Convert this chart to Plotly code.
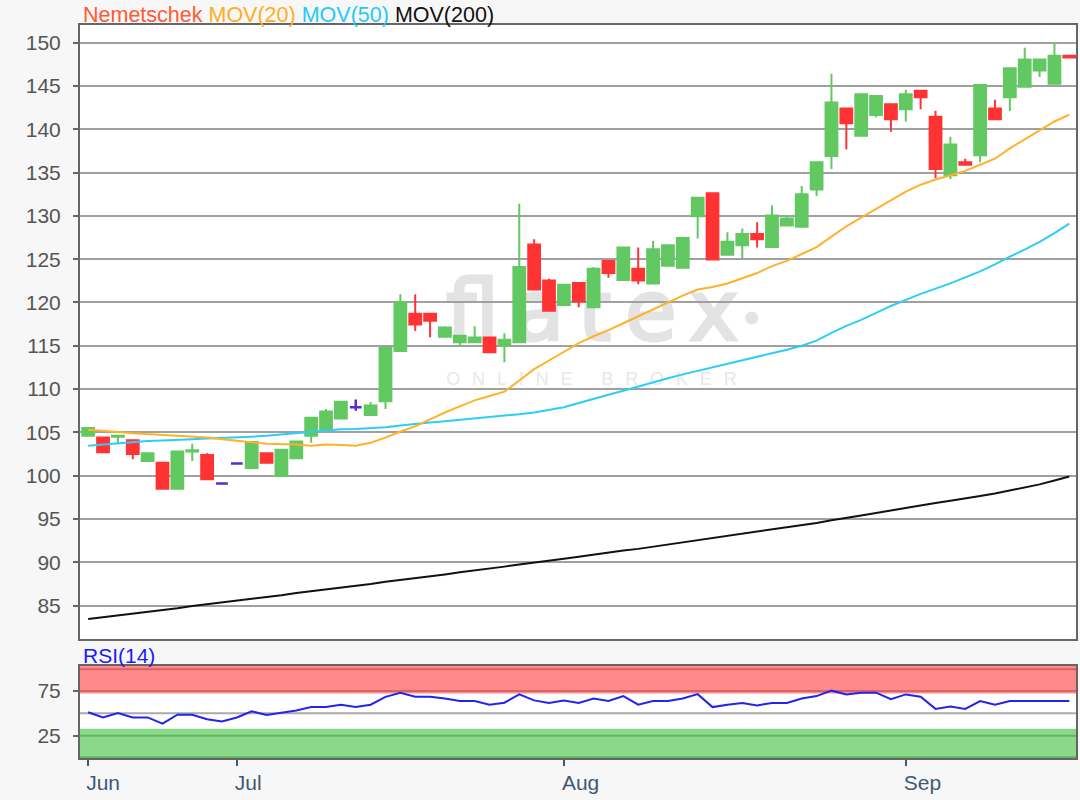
import base64
import pandas as pd
import plotly.graph_objects as go

# ---------------- data ----------------
dates = [d.strftime("%Y-%m-%d") for d in pd.bdate_range("2018-06-18", "2018-09-18")]
month_labels = ["Jun", "Jul", "Aug", "Sep"]

open_ = [104.6, 104.4, 104.5, 104.1, 101.7, 101.5, 98.5, 102.8, 102.4, 99.1,
         101.4, 100.9, 102.6, 100.0, 102.0, 104.6, 105.3, 106.6, 107.9, 107.0,
         108.6, 114.4, 118.7, 118.7, 116.05, 115.4, 115.4, 115.95, 115.0, 115.4,
         126.7, 122.55, 119.7, 122.25, 119.45, 124.8, 122.6, 123.9, 122.2, 124.25,
         124.0, 129.95, 132.6, 125.5, 126.6, 127.9, 126.4, 128.9, 128.75, 133.05,
         136.9, 142.4, 139.25, 141.65, 142.9, 142.3, 144.45, 141.45, 134.7, 136.2,
         137.0, 142.4, 143.7, 144.9, 146.8, 145.25, 148.5]
high = [105.6, 104.5, 104.65, 104.2, 102.6, 101.5, 102.8, 103.7, 102.6, 99.1,
        101.4, 103.9, 102.6, 103.0, 104.0, 106.7, 107.7, 108.55, 108.8, 108.5,
        114.75, 120.95, 120.95, 118.7, 117.25, 116.15, 117.25, 115.95, 116.45, 131.4,
        127.3, 122.75, 122.1, 122.25, 124.1, 124.8, 126.35, 126.35, 127.1, 126.6,
        127.5, 132.1, 132.6, 128.1, 128.55, 129.25, 131.2, 130.1, 133.45, 136.2,
        146.4, 142.4, 144.05, 143.85, 142.9, 144.55, 144.45, 142.15, 139.15, 136.6,
        145.1, 143.4, 147.05, 149.4, 148.05, 149.9, 148.5]
low = [104.5, 102.6, 103.75, 101.9, 101.7, 98.5, 98.4, 101.7, 99.6, 99.1,
       101.4, 100.9, 101.5, 100.0, 102.0, 103.8, 105.3, 106.6, 107.5, 107.0,
       107.7, 114.4, 116.7, 116.0, 116.05, 115.0, 115.4, 114.25, 113.1, 115.4,
       121.5, 119.05, 119.7, 119.45, 119.45, 122.85, 122.6, 122.1, 122.2, 124.25,
       124.0, 127.4, 124.95, 125.4, 125.1, 126.35, 126.3, 128.85, 128.75, 132.3,
       135.4, 137.7, 139.25, 141.4, 139.7, 140.9, 142.3, 134.35, 134.25, 135.9,
       136.2, 141.15, 142.1, 144.9, 146.05, 145.25, 148.3]
close = [105.5, 102.7, 104.6, 102.5, 102.6, 98.5, 102.8, 102.95, 99.6, 99.1,
         101.4, 103.9, 101.5, 103.0, 103.95, 106.7, 107.4, 108.55, 107.9, 108.1,
         114.75, 120.0, 117.45, 117.9, 117.1, 116.15, 115.95, 114.25, 115.7, 124.1,
         121.5, 119.05, 122.05, 120.1, 123.9, 123.4, 126.35, 122.55, 126.15, 126.6,
         127.45, 132.1, 124.95, 127.0, 127.9, 127.3, 130.05, 129.7, 132.5, 136.2,
         143.1, 140.7, 144.05, 143.85, 141.15, 144.05, 143.7, 135.4, 138.25, 135.9,
         145.1, 141.15, 147.05, 148.05, 148.05, 148.5, 148.3]

mov20 = [105.3, 105.2, 105.05, 104.9, 104.8, 104.7, 104.6, 104.5, 104.4, 104.2,
         104.0, 103.85, 103.7, 103.65, 103.6, 103.45, 103.6, 103.55, 103.45, 103.8,
         104.4, 105.1, 105.7, 106.5, 107.3, 108.0, 108.7, 109.2, 109.7, 111.0,
         112.3, 113.3, 114.3, 115.3, 116.1, 116.8, 117.6, 118.4, 119.2, 120.0,
         120.8, 121.5, 121.8, 122.2, 122.8, 123.4, 124.2, 124.8, 125.6, 126.4,
         127.6, 128.8, 129.8, 130.8, 131.8, 132.8, 133.6, 134.2, 134.7, 135.2,
         135.9, 136.6, 137.8, 138.8, 139.9, 140.9, 141.7]
mov50 = [103.45, 103.6, 103.75, 103.9, 104.0, 104.05, 104.1, 104.2, 104.3, 104.35,
         104.4, 104.5, 104.6, 104.75, 104.9, 105.0, 105.2, 105.35, 105.4, 105.5,
         105.6, 105.8, 106.0, 106.15, 106.3, 106.45, 106.6, 106.75, 106.9, 107.1,
         107.3, 107.6, 107.9, 108.4, 108.9, 109.35, 109.8, 110.3, 110.8, 111.25,
         111.7, 112.1, 112.5, 112.9, 113.3, 113.7, 114.1, 114.55, 115.0, 115.6,
         116.5, 117.3, 118.0, 118.8, 119.6, 120.3, 121.0, 121.6, 122.2, 122.9,
         123.6, 124.4, 125.3, 126.1, 127.0, 128.0, 129.1]
mov200 = [83.45, 83.65, 83.85, 84.05, 84.25, 84.45, 84.7, 84.95, 85.15, 85.35,
          85.55, 85.75, 85.95, 86.2, 86.45, 86.65, 86.85, 87.05, 87.25, 87.5,
          87.75, 87.95, 88.2, 88.4, 88.6, 88.85, 89.05, 89.3, 89.5, 89.75,
          89.95, 90.2, 90.4, 90.65, 90.9, 91.1, 91.35, 91.55, 91.8, 92.0,
          92.25, 92.5, 92.75, 93.0, 93.25, 93.5, 93.75, 94.0, 94.3, 94.55,
          94.85, 95.1, 95.4, 95.7, 96.0, 96.3, 96.55, 96.85, 97.1, 97.35,
          97.65, 97.95, 98.3, 98.65, 99.0, 99.45, 99.9]
rsi14 = [51.2, 45.4, 50.4, 45.4, 45.4, 38.4, 48.5, 48.5, 43.5, 40.8,
         45.4, 52.3, 48.1, 50.4, 53.1, 57.0, 57.0, 59.7, 57.0, 59.7,
         68.5, 73.1, 68.5, 68.5, 66.6, 63.8, 63.8, 59.7, 61.9, 71.2,
         64.5, 61.6, 64.3, 61.6, 66.6, 63.8, 69.3, 59.7, 63.8, 63.8,
         66.6, 71.5, 57.0, 59.7, 61.6, 58.9, 61.6, 61.6, 66.6, 69.3,
         75.4, 71.2, 73.1, 73.1, 65.8, 71.2, 68.5, 55.0, 57.7, 55.0,
         63.8, 59.7, 63.8, 63.8, 63.8, 63.8, 63.8]

# ---------------- styling ----------------
FONT = "Liberation Sans, Arial, sans-serif"
GREEN = "#62c862"
RED = "#ff3333"
DOJI = "#5a2bd3"
C20 = "#ffb12a"
C50 = "#2ccdf7"
C200 = "#111111"
AXIS = "#666666"
GRID = "#a0a0a0"

idx = list(range(len(dates)))
doji = [i for i in idx if open_[i] == close[i]]
body = [i for i in idx if open_[i] != close[i]]

# first trading day of every month -> x ticks
tickvals = []
seen = set()
for i, d in enumerate(dates):
    if d[:7] not in seen:
        seen.add(d[:7])
        tickvals.append(i)

# watermark as a background picture inside the price panel
WM = "#e3e3e3"
svg = (
    '<svg xmlns="http://www.w3.org/2000/svg" width="998" height="614" viewBox="0 0 998 614" '
    'preserveAspectRatio="none">'
    f'<text x="367" y="315" font-family="DejaVu Sans" font-size="84" fill="{WM}" stroke="{WM}" '
    'stroke-width="3" textLength="293" lengthAdjust="spacing">flatex</text>'
    f'<circle cx="673" cy="293" r="6.5" fill="{WM}"/>'
    '<text x="367" y="360" font-family="Liberation Sans" font-size="18" fill="#e8e8e8" '
    'textLength="291" lengthAdjust="spacing">ONLINE BROKER</text>'
    '</svg>'
)
svg_uri = "data:image/svg+xml;base64," + base64.b64encode(svg.encode("utf-8")).decode("ascii")

fig = go.Figure()

fig.add_trace(go.Candlestick(
    x=[idx[i] for i in body], open=[open_[i] for i in body], high=[high[i] for i in body],
    low=[low[i] for i in body], close=[close[i] for i in body],
    increasing=dict(line=dict(color=GREEN, width=2), fillcolor=GREEN),
    decreasing=dict(line=dict(color=RED, width=2), fillcolor=RED),
    whiskerwidth=0, showlegend=False, hoverinfo="skip"))
fig.add_trace(go.Candlestick(
    x=[idx[i] for i in doji], open=[open_[i] for i in doji], high=[high[i] for i in doji],
    low=[low[i] for i in doji], close=[close[i] for i in doji],
    increasing=dict(line=dict(color=DOJI, width=2.5), fillcolor=DOJI),
    decreasing=dict(line=dict(color=DOJI, width=2.5), fillcolor=DOJI),
    whiskerwidth=0, showlegend=False, hoverinfo="skip"))

fig.add_trace(go.Scatter(x=idx, y=mov200, mode="lines", line=dict(color=C200, width=2),
                         showlegend=False, hoverinfo="skip"))
fig.add_trace(go.Scatter(x=idx, y=mov50, mode="lines", line=dict(color=C50, width=2),
                         showlegend=False, hoverinfo="skip"))
fig.add_trace(go.Scatter(x=idx, y=mov20, mode="lines", line=dict(color=C20, width=2),
                         showlegend=False, hoverinfo="skip"))

fig.add_trace(go.Scatter(x=idx, y=rsi14, mode="lines", line=dict(color="#2323f0", width=2),
                         showlegend=False, hoverinfo="skip", xaxis="x2", yaxis="y2"))

# RSI zones
shapes = [
    dict(type="rect", xref="x2 domain", yref="y2", x0=0, x1=1, y0=72.3, y1=103,
         fillcolor="#ff8a8a", line=dict(width=0), layer="below"),
    dict(type="rect", xref="x2 domain", yref="y2", x0=0, x1=1, y0=0, y1=32.7,
         fillcolor="#8ad98a", line=dict(width=0), layer="below"),
]
for lvl, col in [(75, "#d96262"), (99.5, "#d96262"), (25, "#5cb85c"), (0.8, "#5cb85c"), (50, "#aaaaaa")]:
    shapes.append(dict(type="line", xref="x2 domain", yref="y2", x0=0, x1=1, y0=lvl, y1=lvl,
                       line=dict(color=col, width=2), layer="below"))

MAIN_BOTTOM = 0.1623
xrange = [-0.55, 66.45]
fig.update_layout(
    width=1080, height=800,
    margin=dict(l=80, r=2, t=25, b=42),
    paper_bgcolor="#f7f7f7", plot_bgcolor="#ffffff",
    font=dict(family=FONT, size=21, color="#555555"),
    boxgap=0.1, boxgroupgap=0.12,
    hovermode=False,
    shapes=shapes,
    images=[dict(source=svg_uri, xref="paper", yref="paper", x=0, y=1,
                 sizex=1, sizey=1 - MAIN_BOTTOM, xanchor="left", yanchor="top",
                 sizing="stretch", layer="below")],
    xaxis=dict(domain=[0, 1], range=xrange, anchor="y", showticklabels=False, ticks="",
               showgrid=False, zeroline=False, showline=True, mirror=True,
               linecolor=AXIS, linewidth=2, rangeslider=dict(visible=False)),
    yaxis=dict(domain=[MAIN_BOTTOM, 1], range=[81.14, 152.04], anchor="x", dtick=5, tick0=85,
               ticks="outside", ticklen=5, tickwidth=2, tickcolor=AXIS,
               showgrid=True, gridcolor=GRID, gridwidth=2, zeroline=False,
               showline=True, mirror=True, linecolor=AXIS, linewidth=2,
               tickfont=dict(size=21, color="#555555"), ticklabelstandoff=8),
    xaxis2=dict(domain=[0, 1], range=xrange, anchor="y2", tickvals=tickvals, ticktext=month_labels,
                ticks="outside", ticklen=6, tickwidth=2, tickcolor="#3f5a74",
                ticklabelposition="outside right", ticklabelstandoff=5, ticklabelshift=-4,
                tickfont=dict(size=21, color="#3f5a74"),
                showgrid=False, zeroline=False, showline=True, mirror=True,
                linecolor=AXIS, linewidth=2, rangeslider=dict(visible=False)),
    yaxis2=dict(domain=[0, 0.1255], range=[0, 103], anchor="x2", tickvals=[25, 75],
                ticks="outside", ticklen=5, tickwidth=2, tickcolor=AXIS,
                showgrid=False, zeroline=False, showline=True, mirror=True,
                linecolor=AXIS, linewidth=2,
                tickfont=dict(size=21, color="#555555"), ticklabelstandoff=8),
    annotations=[
        dict(xref="paper", yref="paper", x=0, y=1, xanchor="left", yanchor="middle",
             xshift=1, yshift=10, showarrow=False, font=dict(size=21.5, family=FONT),
             text='<span style="color:#ff5a36">Nemetschek</span> '
                  '<span style="color:#ffad1f">MOV(20)</span> '
                  '<span style="color:#26c9f5">MOV(50)</span> '
                  '<span style="color:#111111">MOV(200)</span>'),
        dict(xref="paper", yref="y2 domain", x=0, y=1, xanchor="left", yanchor="middle",
             xshift=1, yshift=11, showarrow=False,
             font=dict(size=21, family=FONT, color="#1a1aff"), text="RSI(14)"),
    ],
)

fig.write_html("out.html", config={"displayModeBar": False},
               post_script="document.body.style.margin='0';document.body.style.overflow='hidden';")
